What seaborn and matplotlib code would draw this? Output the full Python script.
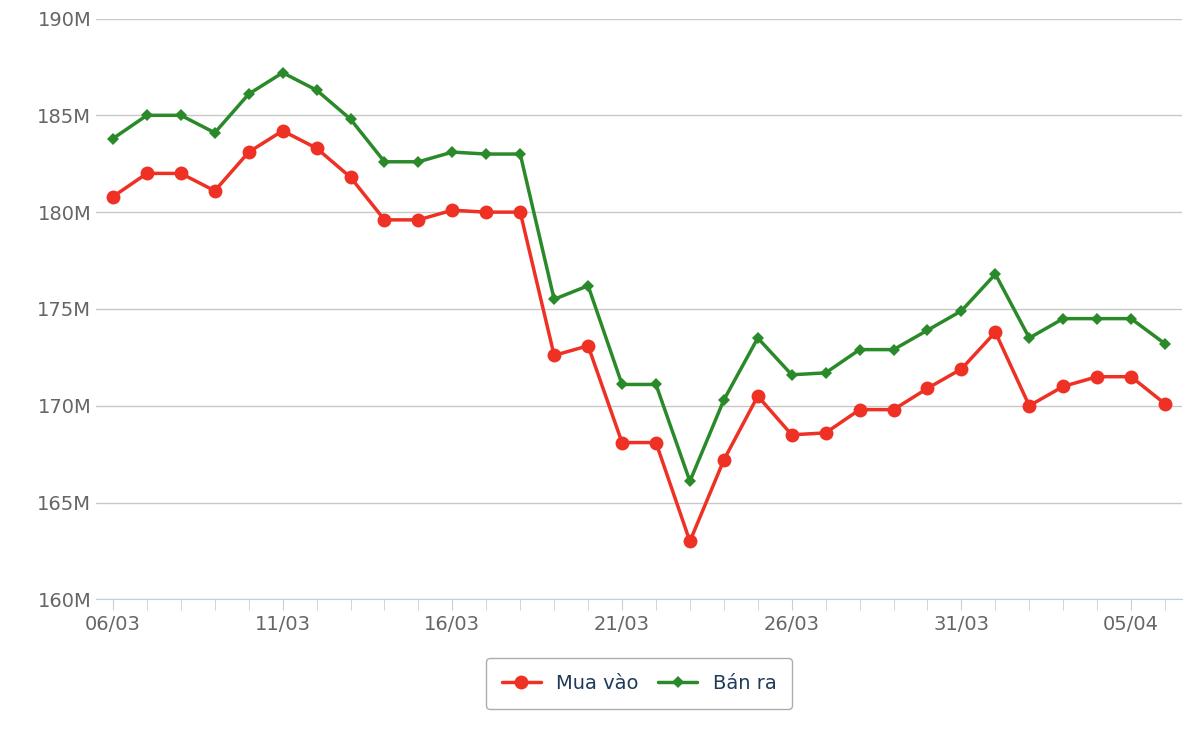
import pandas as pd
import seaborn as sns
import matplotlib.pyplot as plt
import matplotlib.ticker as mticker

# Values in millions, daily from 06/03 to 06/04
dates = pd.date_range('2024-03-06', '2024-04-06', freq='D')
mua_vao = [180.8, 182.0, 182.0, 181.1, 183.1, 184.2, 183.3, 181.8, 179.6, 179.6,
           180.1, 180.0, 180.0, 172.6, 173.1, 168.1, 168.1, 163.0, 167.2, 170.5,
           168.5, 168.6, 169.8, 169.8, 170.9, 171.9, 173.8, 170.0, 171.0, 171.5,
           171.5, 170.1]
ban_ra = [183.8, 185.0, 185.0, 184.1, 186.1, 187.2, 186.3, 184.8, 182.6, 182.6,
          183.1, 183.0, 183.0, 175.5, 176.2, 171.1, 171.1, 166.1, 170.3, 173.5,
          171.6, 171.7, 172.9, 172.9, 173.9, 174.9, 176.8, 173.5, 174.5, 174.5,
          174.5, 173.2]

df = pd.DataFrame({'day': range(len(dates)), 'Mua vào': mua_vao, 'Bán ra': ban_ra})

sns.set_style('white')
plt.rcParams['font.family'] = ['DejaVu Sans']

fig, ax = plt.subplots(figsize=(12, 7.4), dpi=100)
fig.subplots_adjust(left=0.08, right=0.985, top=0.975, bottom=0.19)

sns.lineplot(data=df, x='day', y='Mua vào', ax=ax, color='#ee3124', lw=2.5,
             marker='o', markersize=10, markeredgewidth=0, label='Mua vào')
sns.lineplot(data=df, x='day', y='Bán ra', ax=ax, color='#2a8a2a', lw=2.5,
             marker='D', markersize=6.5, markeredgewidth=0, label='Bán ra')

ax.set_ylim(160, 190)
ax.set_xlim(-0.5, len(dates) - 0.5)
ax.yaxis.set_major_locator(mticker.MultipleLocator(5))
ax.yaxis.set_major_formatter(mticker.FuncFormatter(lambda v, p: f'{v:.0f}M'))
ax.grid(axis='y', color='#c8c8c8', lw=1)
ax.set_xticks(range(0, len(dates), 5))
ax.set_xticklabels([d.strftime('%d/%m') for d in dates[::5]])
ax.set_xticks(range(len(dates)), minor=True)
ax.tick_params(axis='x', which='both', length=8, color='#c0d0e0', direction='out', bottom=True)
ax.tick_params(axis='both', labelsize=14, labelcolor='#666666')
ax.tick_params(axis='y', length=0)
ax.set_xlabel('')
ax.set_ylabel('')
for s in ['top', 'right', 'left']:
    ax.spines[s].set_visible(False)
ax.spines['bottom'].set_color('#c0d0e0')

leg = ax.legend(loc='upper center', bbox_to_anchor=(0.5, -0.085), ncol=2, fontsize=14,
                frameon=True, fancybox=True, edgecolor='#999999', borderpad=0.8,
                handlelength=2.0, columnspacing=1.0)
for t in leg.get_texts():
    t.set_color('#1f3b5a')

plt.savefig('out.png')
